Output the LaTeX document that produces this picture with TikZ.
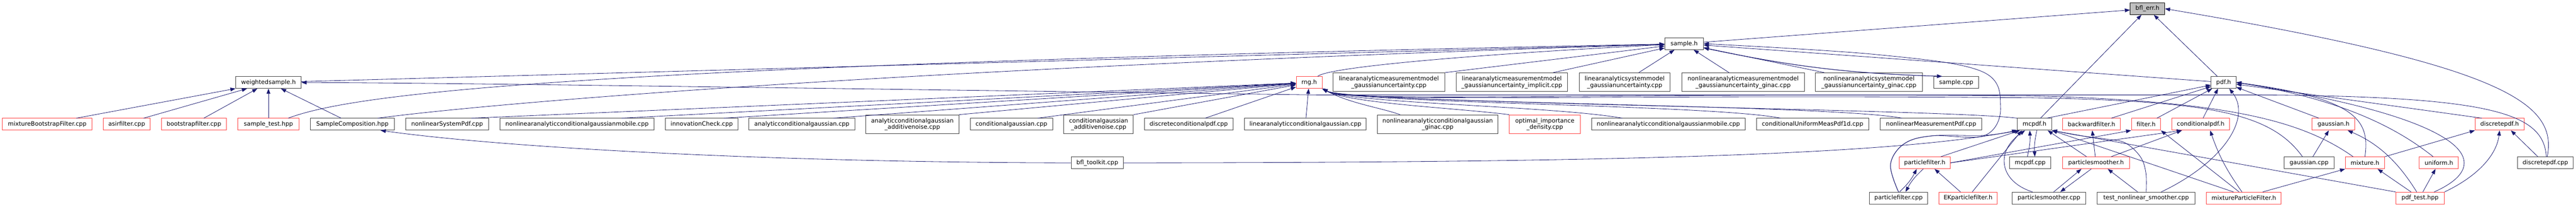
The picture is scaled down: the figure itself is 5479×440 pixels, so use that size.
\documentclass[tikz,border=0pt]{standalone}
\usepackage{fontspec}
\setmainfont{DejaVu Sans}
\usetikzlibrary{arrows.meta}

\definecolor{inclblue}{RGB}{25,25,112}
\definecolor{boxgray}{RGB}{64,64,64}
\definecolor{boxred}{RGB}{255,64,64}
\definecolor{rootgray}{RGB}{191,191,191}

\tikzset{every picture/.style={line width=0.75pt}}
\tikzset{
  filebox/.style={draw=boxgray, line width=1.1pt, fill=white, inner sep=0pt,
    minimum height=25pt, align=center, font={\fontsize{12.6pt}{14pt}\selectfont}},
  truncbox/.style={filebox, draw=boxred},
  rootbox/.style={filebox, draw=black, fill=rootgray},
  twoline/.style={minimum height=40pt},
  incl/.style={draw=inclblue, line width=0.9pt, -{Triangle[length=11pt,width=8pt]}}
}

\begin{document}
\begin{tikzpicture}[x=1pt,y=1pt,yscale=-1,xscale=1]
%set diagram left start at 0, and has height of 440
\useasboundingbox (0,0) rectangle (5479,440);

% Text Node
\draw (4567.5,18.5) node [rootbox, minimum width=73pt] (bflerr) {bfl\_err.h};
% Text Node
\draw (3582,93) node [filebox, minimum width=82pt] (sampleh) {sample.h};

% Text Node
\draw (571,175.5) node [filebox, minimum width=139pt] (wsampleh) {weightedsample.h};
% Text Node
\draw (2784.5,175.5) node [truncbox, minimum width=55pt] (rngh) {rng.h};
% Text Node
\draw (2954,175) node [filebox, twoline, minimum width=238pt] (lammgu) {linearanalyticmeasurementmodel\\\_gaussianuncertainty.cpp};
% Text Node
\draw (3215.5,175) node [filebox, twoline, minimum width=237pt] (lammgui) {linearanalyticmeasurementmodel\\\_gaussianuncertainty\_implicit.cpp};
% Text Node
\draw (3455.5,175) node [filebox, twoline, minimum width=193pt] (lasmgu) {linearanalyticsystemmodel\\\_gaussianuncertainty.cpp};
% Text Node
\draw (3707.5,175) node [filebox, twoline, minimum width=261pt] (nlammgug) {nonlinearanalyticmeasurementmodel\\\_gaussianuncertainty\_ginac.cpp};
% Text Node
\draw (3975,175) node [filebox, twoline, minimum width=227pt] (nlasmgug) {nonlinearanalyticsystemmodel\\\_gaussianuncertainty\_ginac.cpp};
% Text Node
\draw (4160.7,175.5) node [filebox, minimum width=96pt] (samplecpp) {sample.cpp};
% Text Node
\draw (4729.5,175.5) node [filebox, minimum width=53pt] (pdfh) {pdf.h};

% Text Node
\draw (100.5,264.5) node [truncbox, minimum width=191pt] (mbfcpp) {mixtureBootstrapFilter.cpp};
% Text Node
\draw (269.5,264.5) node [truncbox, minimum width=99pt] (asircpp) {asirfilter.cpp};
% Text Node
\draw (412.5,264.5) node [truncbox, minimum width=139pt] (bootcpp) {bootstrapfilter.cpp};
% Text Node
\draw (571,264.5) node [truncbox, minimum width=130pt] (sampletest) {sample\_test.hpp};
% Text Node
\draw (749.5,264.5) node [filebox, minimum width=179pt] (samplecomp) {SampleComposition.hpp};
% Text Node
\draw (951,264.5) node [filebox, minimum width=176pt] (nlsyspdf) {nonlinearSystemPdf.cpp};
% Text Node
\draw (1227.3,264.5) node [filebox, minimum width=327pt] (nlacgma) {nonlinearanalyticconditionalgaussianmobile.cpp};
% Text Node
\draw (1492.5,264.5) node [filebox, minimum width=155pt] (innovcpp) {innovationCheck.cpp};
% Text Node
\draw (1705.5,264.5) node [filebox, minimum width=225pt] (acgcpp) {analyticconditionalgaussian.cpp};
% Text Node
\draw (1940.5,264.5) node [filebox, twoline, minimum width=198pt] (acgancpp) {analyticconditionalgaussian\\\_additivenoise.cpp};
% Text Node
\draw (2151.2,264.5) node [filebox, minimum width=175pt] (cgcpp) {conditionalgaussian.cpp};
% Text Node
\draw (2336.7,264.5) node [filebox, twoline, minimum width=148pt] (cgancpp) {conditionalgaussian\\\_additivenoise.cpp};
% Text Node
\draw (2528.3,264.5) node [filebox, minimum width=188pt] (dcpdfcpp) {discreteconditionalpdf.cpp};
% Text Node
\draw (2776.5,264.5) node [filebox, minimum width=259pt] (lacgcpp) {linearanalyticconditionalgaussian.cpp};
% Text Node
\draw (3057.8,264.5) node [filebox, twoline, minimum width=256pt] (nlacggcpp) {nonlinearanalyticconditionalgaussian\\\_ginac.cpp};
% Text Node
\draw (3285.8,264.5) node [truncbox, twoline, minimum width=151pt] (optidcpp) {optimal\_importance\\\_density.cpp};
% Text Node
\draw (3548.5,264.5) node [filebox, minimum width=327pt] (nlacgmb) {nonlinearanalyticconditionalgaussianmobile.cpp};
% Text Node
\draw (3855.2,264.5) node [filebox, minimum width=239pt] (cumpdfcpp) {conditionalUniformMeasPdf1d.cpp};
% Text Node
\draw (4107.3,264.5) node [filebox, minimum width=216pt] (nlmpdfcpp) {nonlinearMeasurementPdf.cpp};
% Text Node
\draw (4327.2,264.5) node [filebox, minimum width=73pt] (mcpdfh) {mcpdf.h};
% Text Node
\draw (4448.5,264.5) node [truncbox, minimum width=122pt] (bwfilterh) {backwardfilter.h};
% Text Node
\draw (4564.5,264.5) node [truncbox, minimum width=62pt] (filterh) {filter.h};
% Text Node
\draw (4680.7,264.5) node [truncbox, minimum width=123pt] (cpdfh) {conditionalpdf.h};
% Text Node
\draw (4963.2,264.5) node [truncbox, minimum width=91pt] (gaussh) {gaussian.h};
% Text Node
\draw (5316.5,264.5) node [truncbox, minimum width=104pt] (dpdfh) {discretepdf.h};

% Text Node
\draw (2333.8,346.5) node [filebox, minimum width=111pt] (toolkitcpp) {bfl\_toolkit.cpp};
% Text Node
\draw (4093.7,346.5) node [truncbox, minimum width=109pt] (pfilterh) {particlefilter.h};
% Text Node
\draw (4318,346.5) node [filebox, minimum width=88pt] (mcpdfcpp) {mcpdf.cpp};
% Text Node
\draw (4458,346.5) node [truncbox, minimum width=143pt] (psmootherh) {particlesmoother.h};
% Text Node
\draw (4911.2,346.5) node [filebox, minimum width=107pt] (gausscpp) {gaussian.cpp};
% Text Node
\draw (5030,346.5) node [truncbox, minimum width=83pt] (mixtureh) {mixture.h};
% Text Node
\draw (5187.2,346.5) node [truncbox, minimum width=83pt] (uniformh) {uniform.h};
% Text Node
\draw (5413.8,346.5) node [filebox, minimum width=119pt] (dpdfcpp) {discretepdf.cpp};

% Text Node
\draw (4038,421.5) node [filebox, minimum width=123pt] (pfiltercpp) {particlefilter.cpp};
% Text Node
\draw (4185.8,421.5) node [truncbox, minimum width=124pt] (ekpfilterh) {EKparticlefilter.h};
% Text Node
\draw (4358,421.5) node [filebox, minimum width=157pt] (psmoothercpp) {particlesmoother.cpp};
% Text Node
\draw (4564.7,421.5) node [filebox, minimum width=208pt] (testnlsmcpp) {test\_nonlinear\_smoother.cpp};
% Text Node
\draw (4772.5,421.5) node [truncbox, minimum width=159pt] (mpfilterh) {mixtureParticleFilter.h};
% Text Node
\draw (5147.2,421.5) node [truncbox, minimum width=103pt] (pdftest) {pdf\_test.hpp};

%Straight Lines
\draw [incl] (sampleh) -- (bflerr);
%Straight Lines
\draw [incl] (mcpdfh) -- (bflerr);
%Straight Lines
\draw [incl] (pdfh) -- (bflerr);
%Curve Lines
\draw [incl] ([xshift=4pt]dpdfcpp.north) .. controls (5440,220) and (5330,140) .. (bflerr.east);

%Straight Lines
\draw [incl] (wsampleh) -- (sampleh);
%Curve Lines
\draw [incl] ([xshift=42pt]sampletest.north) .. controls (750,200) and (1200,140) .. (sampleh);
%Curve Lines
\draw [incl] ([xshift=54pt]samplecomp.north) .. controls (1000,225) and (1800,150) .. (sampleh);
%Curve Lines
\draw [incl] ([xshift=18pt]rngh.north) .. controls (2830,140) and (3200,112) .. (sampleh);
%Straight Lines
\draw [incl] (lammgu.north east) -- (sampleh);
%Straight Lines
\draw [incl] ([xshift=88pt]lammgui.north) -- (sampleh);
%Straight Lines
\draw [incl] ([xshift=30pt]lasmgu.north) -- (sampleh);
%Straight Lines
\draw [incl] ([xshift=-30pt]nlammgug.north) -- (sampleh);
%Straight Lines
\draw [incl] ([xshift=-95pt]nlasmgug.north) -- (sampleh);
%Curve Lines
\draw [incl] ([xshift=-30pt]samplecpp.north) to[bend right=5] (sampleh);
%Curve Lines
\draw [incl] (sampleh) to[bend left=5] ([xshift=-30pt]samplecpp.north);
%Straight Lines
\draw [incl] (pdfh) -- (sampleh);
%Curve Lines
\draw [incl] plot[smooth, tension=0.6] coordinates {(pfiltercpp.north) (4021,350) (4050,306) (4110,289) (4222,288) (4255,228) (4215,152) (3990,116) (sampleh.east)};

%Straight Lines
\draw [incl] ([xshift=52pt]nlsyspdf.north) -- (rngh);
%Straight Lines
\draw [incl] ([xshift=95pt]nlacgma.north) -- (rngh);
%Straight Lines
\draw [incl] ([xshift=47pt]innovcpp.north) -- (rngh);
%Straight Lines
\draw [incl] ([xshift=67pt]acgcpp.north) -- (rngh);
%Straight Lines
\draw [incl] (acgancpp.north east) -- (rngh);
%Straight Lines
\draw [incl] ([xshift=56pt]cgcpp.north) -- (rngh);
%Straight Lines
\draw [incl] (cgancpp.north east) -- (rngh);
%Straight Lines
\draw [incl] ([xshift=35pt]dcpdfcpp.north) -- (rngh);
%Straight Lines
\draw [incl] (lacgcpp) -- (rngh);
%Curve Lines
\draw [incl] ([xshift=-80pt]nlacggcpp.north) .. controls (2940,230) and (2870,220) .. (rngh.south east);
%Curve Lines
\draw [incl] (optidcpp.north west) .. controls (3100,230) and (2870,220) .. (rngh.south east);
%Curve Lines
\draw [incl] ([xshift=-98pt]nlacgmb.north) .. controls (3300,225) and (2870,220) .. (rngh.south east);
%Curve Lines
\draw [incl] ([xshift=-68pt]cumpdfcpp.north) .. controls (3640,222) and (2870,220) .. (rngh.south east);
%Curve Lines
\draw [incl] ([xshift=-62pt]nlmpdfcpp.north) .. controls (3895,222) and (2870,220) .. (rngh.south east);
%Curve Lines
\draw [incl] (mcpdfh.north west) .. controls (4140,232) and (2870,220) .. (rngh.south east);
%Curve Lines
\draw [incl] ([xshift=-14pt]gausscpp.north) .. controls (4830,240) and (4700,215) .. (4320,208) .. controls (3400,200) and (2870,220) .. (rngh.south east);
%Curve Lines
\draw [incl] ([xshift=-25pt]mixtureh.north) .. controls (4900,260) and (4750,215) .. (4320,204) .. controls (3400,196) and (2870,220) .. (rngh.south east);

%Straight Lines
\draw [incl] ([xshift=62pt]mbfcpp.north) -- (wsampleh);
%Straight Lines
\draw [incl] ([xshift=36pt]asircpp.north) -- (wsampleh);
%Straight Lines
\draw [incl] ([xshift=21pt]bootcpp.north) -- (wsampleh);
%Straight Lines
\draw [incl] (sampletest) -- (wsampleh);
%Straight Lines
\draw [incl] ([xshift=-24pt]samplecomp.north) -- (wsampleh);
%Curve Lines
\draw [incl] ([xshift=2pt]dpdfcpp.north) .. controls (5410,240) and (5300,205) .. (4800,202) -- (2800,202) .. controls (1500,185) and (1000,177) .. (wsampleh.east);

%Straight Lines
\draw [incl] ([xshift=26pt]mcpdfh.north) -- (pdfh);
%Straight Lines
\draw [incl] ([xshift=42pt]bwfilterh.north) -- (pdfh);
%Straight Lines
\draw [incl] ([xshift=23pt]filterh.north) -- (pdfh);
%Straight Lines
\draw [incl] ([xshift=5pt]cpdfh.north) -- ([xshift=-12pt]pdfh.south);
%Curve Lines
\draw [incl] ([xshift=32pt]testnlsmcpp.north) .. controls (4730,345) and (4790,250) .. ([xshift=12pt]pdfh.south);
%Straight Lines
\draw [incl] ([xshift=-31pt]gaussh.north) -- (pdfh);
%Curve Lines
\draw [incl] (mixtureh.north) .. controls (5040,260) and (5020,210) .. (pdfh.east);
%Curve Lines
\draw [incl] ([xshift=-12pt]uniformh.north) .. controls (5120,290) and (5010,215) .. (pdfh.east);
%Curve Lines
\draw [incl] ([xshift=30pt]pdftest.north) .. controls (5320,345) and (5240,250) .. (pdfh.east);
%Straight Lines
\draw [incl] ([xshift=-38pt]dpdfh.north) -- (pdfh);

%Curve Lines
\draw [incl] ([xshift=-6pt]mcpdfcpp.north) to[bend left=8] ([xshift=-10pt]mcpdfh.south);
%Curve Lines
\draw [incl] ([xshift=5pt]mcpdfh.south) to[bend left=8] ([xshift=10pt]mcpdfcpp.north);
%Straight Lines
\draw [incl] ([xshift=34pt]pfilterh.north) -- ([xshift=6pt]mcpdfh.south west);
%Straight Lines
\draw [incl] ([xshift=9pt]ekpfilterh.north) -- ([xshift=-27pt]mcpdfh.south);
%Curve Lines
\draw [incl] ([xshift=-35pt]psmoothercpp.north) .. controls (4250,385) and (4245,320) .. ([xshift=-20pt]mcpdfh.south);
%Curve Lines
\draw [incl] plot[smooth, tension=0.6] coordinates {(pfiltercpp.north) (4021,350) (4050,306) (4110,289) (4222,288) ([xshift=3pt]mcpdfh.south west)};
%Curve Lines
\draw [incl] (toolkitcpp.east) .. controls (3300,346) and (4000,335) .. (mcpdfh.south west);
%Straight Lines
\draw [incl] ([xshift=-20pt]psmootherh.north) -- ([xshift=28pt]mcpdfh.south);
%Curve Lines
\draw [incl] plot[smooth, tension=0.6] coordinates {(testnlsmcpp.north) (4564,367) (4552,333) (4520,304) (4480,296) (4420,288) (mcpdfh.south east)};
%Straight Lines
\draw [incl] ([xshift=-22pt]mpfilterh.north) -- (mcpdfh.south east);
%Straight Lines
\draw [incl] (pdftest.north west) -- (mcpdfh.south east);

%Straight Lines
\draw [incl] (pfilterh.east) -- (filterh.south west);
%Straight Lines
\draw [incl] (pfilterh.east) -- ([xshift=-40pt]cpdfh.south);
%Curve Lines
\draw [incl] ([xshift=2pt]pfiltercpp.north) to[bend left=10] ([xshift=-17pt]pfilterh.south);
%Curve Lines
\draw [incl] ([xshift=-3pt]pfilterh.south) to[bend left=10] ([xshift=15pt]pfiltercpp.north);
%Straight Lines
\draw [incl] ([xshift=-16pt]ekpfilterh.north) -- ([xshift=21pt]pfilterh.south);

%Straight Lines
\draw [incl] (psmootherh) -- (bwfilterh);
%Straight Lines
\draw [incl] ([xshift=32pt]psmootherh.north) -- ([xshift=-40pt]cpdfh.south);
%Straight Lines
\draw [incl] ([xshift=10pt]psmoothercpp.north) -- ([xshift=-31pt]psmootherh.south);
%Straight Lines
\draw [incl] ([xshift=-10pt]psmootherh.south) -- ([xshift=24pt]psmoothercpp.north);
%Straight Lines
\draw [incl] ([xshift=-18pt]testnlsmcpp.north) -- ([xshift=25pt]psmootherh.south);

%Straight Lines
\draw [incl] ([xshift=-10pt]mpfilterh.north) -- (filterh.south east);
%Curve Lines
\draw [incl] ([xshift=-4pt]mpfilterh.north) to[bend right=8] ([xshift=20pt]cpdfh.south);
%Straight Lines
\draw [incl] ([xshift=40pt]mpfilterh.north) -- (mixtureh.south west);

%Straight Lines
\draw [incl] ([xshift=8pt]gausscpp.north) -- ([xshift=-10pt]gaussh.south);
%Curve Lines
\draw [incl] ([xshift=-7pt]pdftest.north) .. controls (5110,360) and (5070,310) .. ([xshift=30pt]gaussh.south);
%Straight Lines
\draw [incl] ([xshift=-19pt]pdftest.north) -- ([xshift=27pt]mixtureh.south);
%Straight Lines
\draw [incl] (mixtureh.north east) -- (dpdfh.south west);
%Straight Lines
\draw [incl] ([xshift=6pt]pdftest.north) -- ([xshift=-7pt]uniformh.south);
%Curve Lines
\draw [incl] (pdftest.north east) .. controls (5270,375) and (5310,330) .. (dpdfh.south);
%Straight Lines
\draw [incl] ([xshift=-16pt]dpdfcpp.north) -- ([xshift=24pt]dpdfh.south);

%Curve Lines
\draw [incl] (toolkitcpp.west) .. controls (1700,346) and (1100,318) .. ([xshift=60pt]samplecomp.south);

\end{tikzpicture}
\end{document}
